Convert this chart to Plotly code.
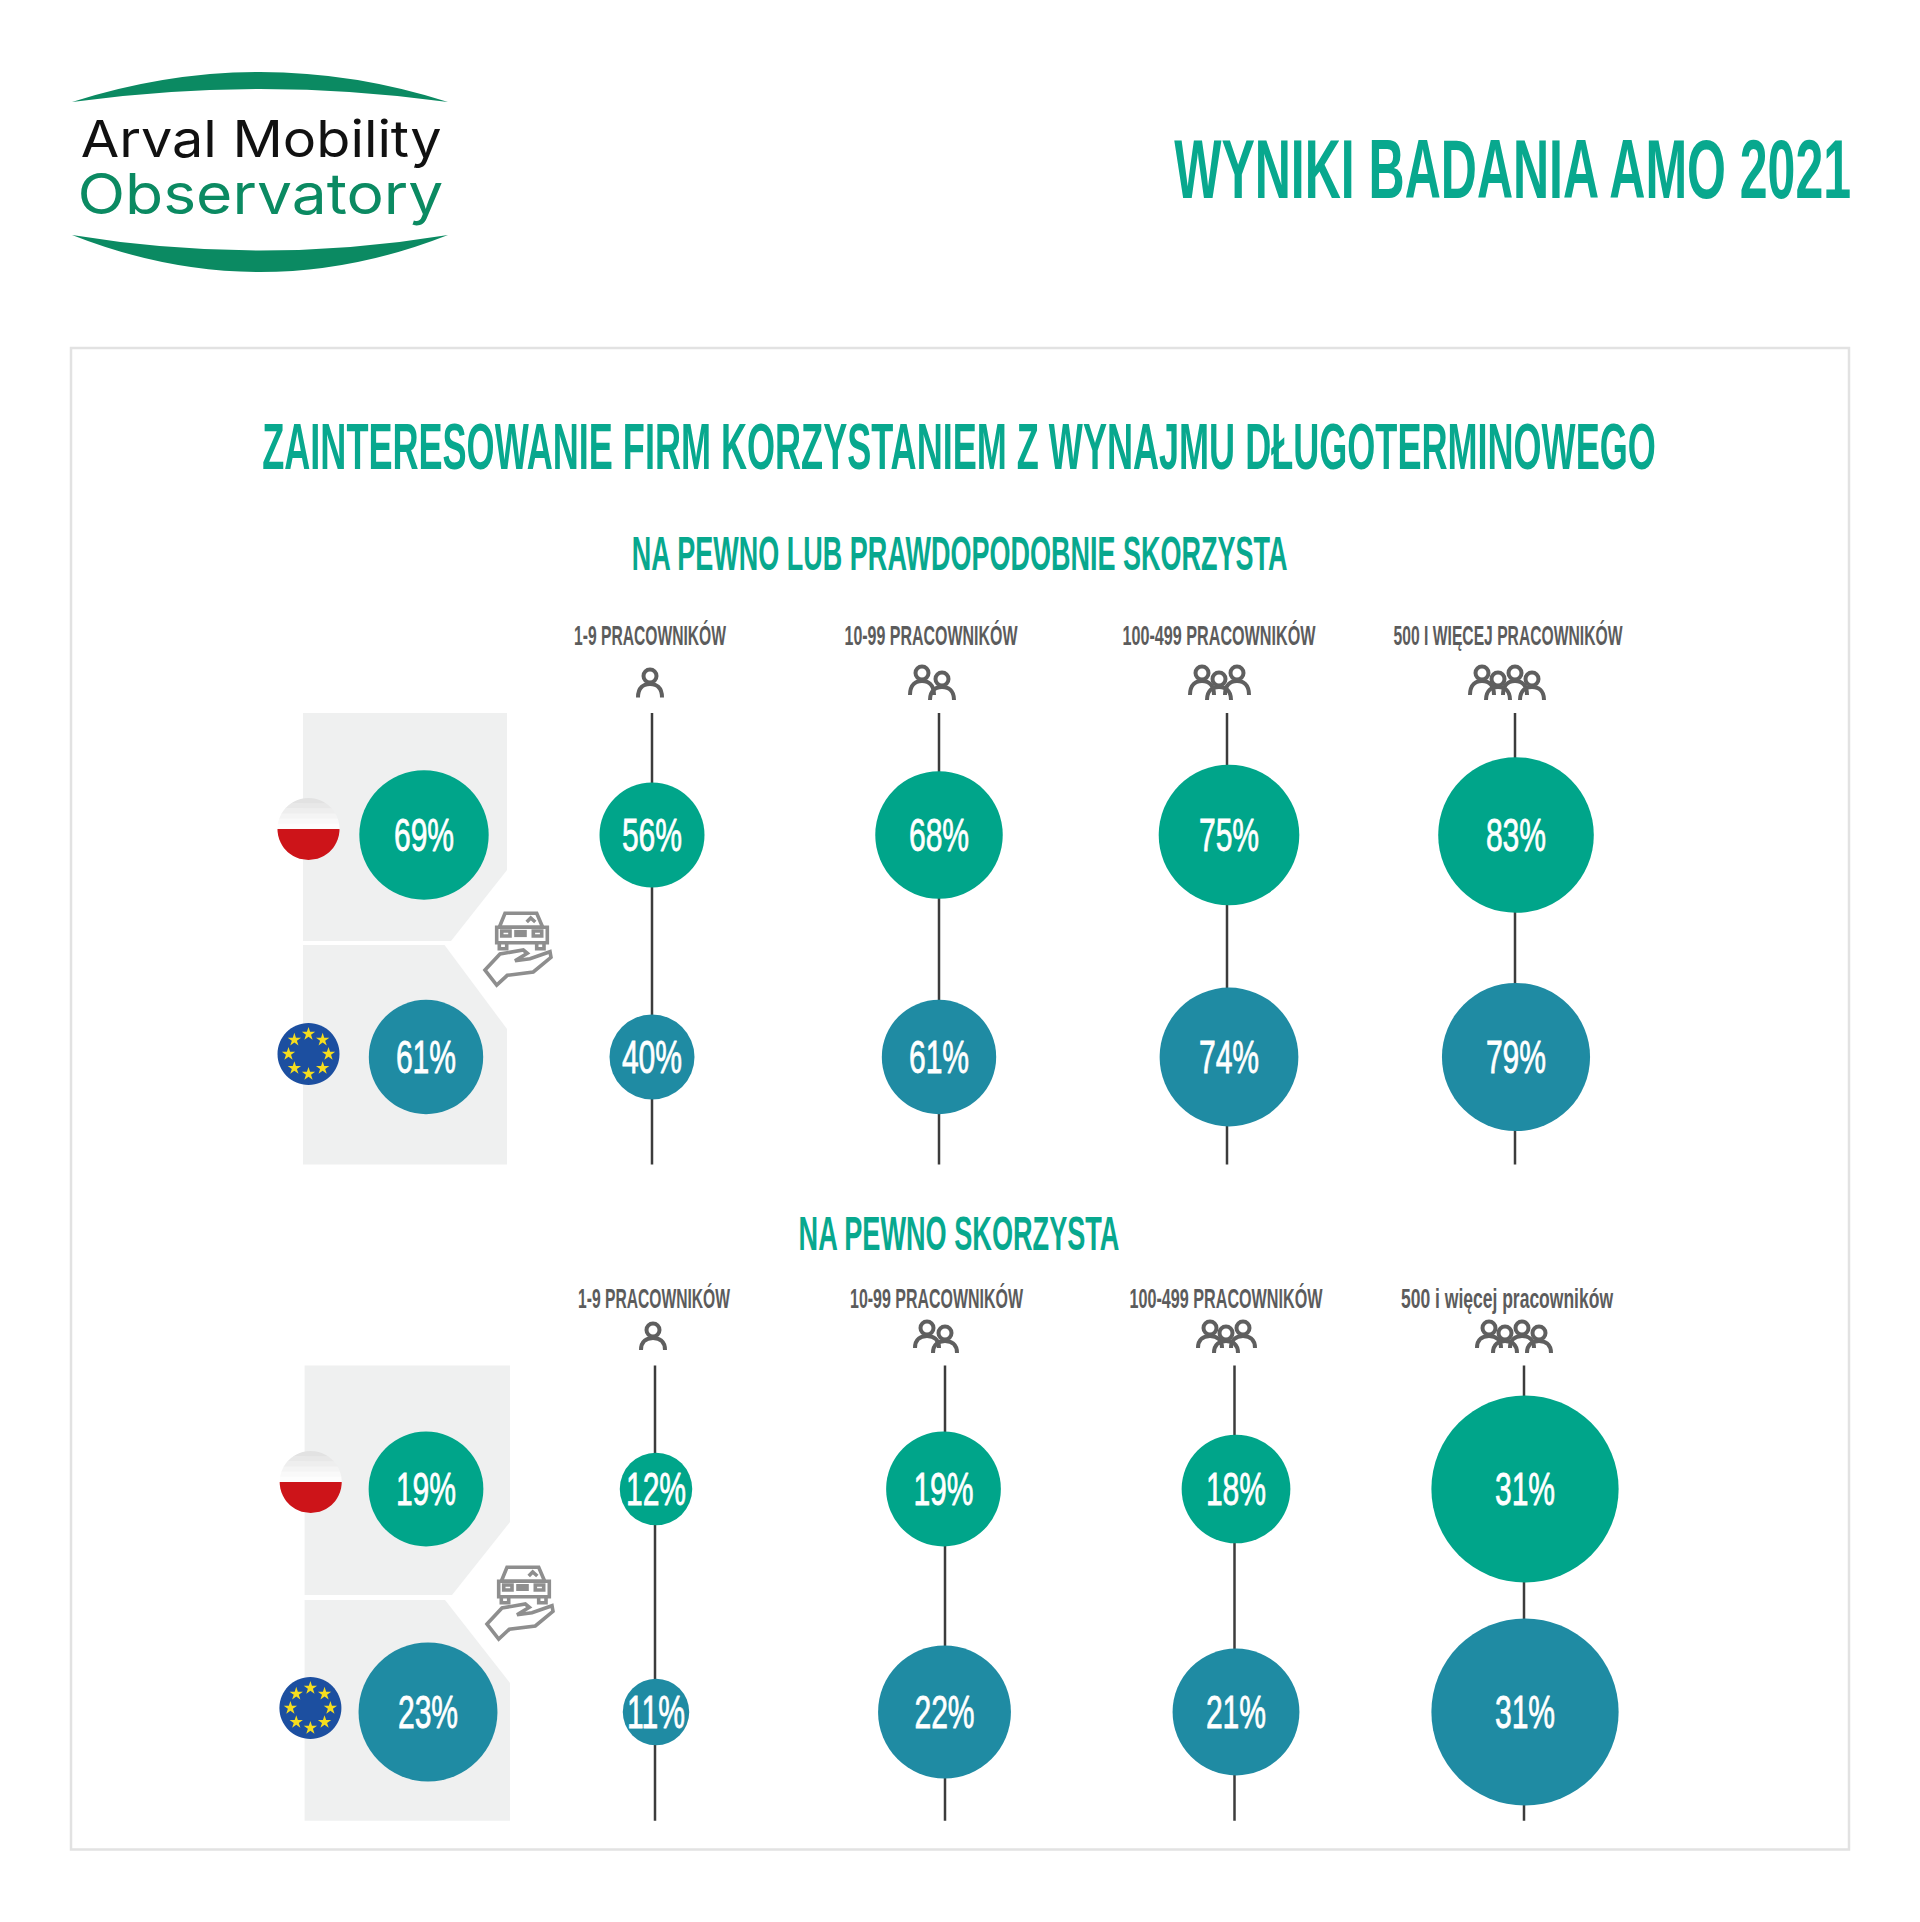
import json
import numpy as np
import plotly.graph_objects as go

# values
size_labels_a = ["1-9 PRACOWNIKÓW", "10-99 PRACOWNIKÓW", "100-499 PRACOWNIKÓW", "500 I WIĘCEJ PRACOWNIKÓW"]
size_labels_b = ["1-9 PRACOWNIKÓW", "10-99 PRACOWNIKÓW", "100-499 PRACOWNIKÓW", "500 i więcej pracowników"]
poland_a = [69, 56, 68, 75, 83]
europe_a = [61, 40, 61, 74, 79]
poland_b = [19, 12, 19, 18, 31]
europe_b = [23, 11, 22, 21, 31]

GREEN = "#00a58a"
TEAL = "#1f8ba3"
TITLE = "#08a88e"
LOGO = "#0b8a62"
GREY = "#5f5f5f"
ICON = "#8e8e8e"
FONT = "Liberation Sans"

# widths of the condensed headline font, squeezed after the plot is drawn
text_widths = {
    "WYNIKI BADANIA AMO 2021": 677,
    "ZAINTERESOWANIE FIRM KORZYSTANIEM Z WYNAJMU DŁUGOTERMINOWEGO": 1394,
    "NA PEWNO LUB PRAWDOPODOBNIE SKORZYSTA": 656,
    "NA PEWNO SKORZYSTA": 321,
    "1-9 PRACOWNIKÓW": 152,
    "10-99 PRACOWNIKÓW": 173,
    "100-499 PRACOWNIKÓW": 193,
    "500 I WIĘCEJ PRACOWNIKÓW": 229,
    "500 i więcej pracowników": 212,
    "Arval Mobility": 361,
    "Observatory": 366,
}

shapes = []


def add_path(path, fill=None, line=None, width=0):
    shapes.append(dict(type="path", path=path, layer="below",
                       fillcolor=fill or "rgba(0,0,0,0)",
                       line=dict(color=line or "rgba(0,0,0,0)", width=width)))


def circle_path(cx, cy, r):
    k = 0.5523 * r
    return (f"M {cx-r} {cy} C {cx-r} {cy-k} {cx-k} {cy-r} {cx} {cy-r} "
            f"C {cx+k} {cy-r} {cx+r} {cy-k} {cx+r} {cy} "
            f"C {cx+r} {cy+k} {cx+k} {cy+r} {cx} {cy+r} "
            f"C {cx-k} {cy+r} {cx-r} {cy+k} {cx-r} {cy} Z")


def slice_path(cx, cy, r, y1, y2):
    # piece of a disc between two horizontal cuts
    ys = np.linspace(y1, y2, 24)
    half = np.sqrt(np.maximum(r**2 - (ys - cy)**2, 0))
    pts = [(cx - h, y) for h, y in zip(half, ys)] + [(cx + h, y) for h, y in zip(half[::-1], ys[::-1])]
    return "M " + " L ".join(f"{x:.1f} {y:.1f}" for x, y in pts) + " Z"


def poland_flag(cx, cy, r=31):
    bands = ["#e2e2e2", "#e8e8e8", "#eeeeee", "#f4f4f4", "#f9f9f9", "#fdfdfd"]
    for i, col in enumerate(bands):
        add_path(slice_path(cx, cy, r, cy - r + i * r / 6, cy - r + (i + 1) * r / 6 + 0.5), fill=col)
    add_path(slice_path(cx, cy, r, cy, cy + r), fill="#cd1419")


def person(cx, head_y, bottom):
    add_path(circle_path(cx, head_y, 6.5), line=GREY, width=4)
    top = head_y + 8
    add_path(f"M {cx-12} {bottom} C {cx-12} {top+3} {cx-6} {top} {cx} {top} "
             f"C {cx+6} {top} {cx+12} {top+3} {cx+12} {bottom}", line=GREY, width=4)


def car_hand(ox, oy):
    def p(points, close=True):
        s = " L ".join(f"{ox + x/3:.1f} {oy + y/3:.1f}" for x, y in points)
        add_path("M " + s + (" Z" if close else ""), line=ICON, width=3.6)
    p([(105, 40), (200, 40), (218, 82), (88, 82)])
    p([(170, 66), (182, 54), (196, 66)], False)
    p([(80, 82), (232, 82), (232, 128), (80, 128)])
    p([(88, 128), (88, 146), (110, 146), (110, 128)], False)
    p([(200, 128), (200, 146), (222, 146), (222, 128)], False)
    p([(95, 93), (120, 93), (120, 108), (95, 108)])
    p([(190, 93), (215, 93), (215, 108), (190, 108)])
    p([(138, 95), (165, 95), (165, 106), (138, 106)])
    p([(45, 210), (90, 162), (160, 150), (172, 160), (135, 182), (180, 176), (240, 155),
       (243, 172), (190, 216), (112, 226), (80, 255)])


def grey_panel(left, right, top, bend1, tip1, x1, tip2, x2, bend2, bottom):
    add_path(f"M {left} {top} L {right} {top} L {right} {bend1} L {x1} {tip1} L {left} {tip1} Z", fill="#eff0f0")
    add_path(f"M {left} {tip2} L {x2} {tip2} L {right} {bend2} L {right} {bottom} L {left} {bottom} Z", fill="#eff0f0")


# page frame
shapes.append(dict(type="rect", x0=71, x1=1849, y0=348, y1=1849.5, layer="below",
                   line=dict(color="#e2e2e2", width=2.5), fillcolor="white"))

# logo swooshes
add_path("M 72 102 Q 260 42 448 102 Q 260 76 72 102 Z", fill=LOGO)
add_path("M 72 235 Q 260 309 448 235 Q 260 266 72 235 Z", fill=LOGO)

grey_panel(303, 507, 713, 870, 941, 451, 945, 444.5, 1029, 1164.5)
grey_panel(304.6, 510, 1365.6, 1522, 1595, 452, 1600, 445, 1683, 1820.7)
poland_flag(308.5, 829)
add_path(circle_path(308.5, 1054, 31), fill="#1c4fa0")
poland_flag(310.7, 1482)
add_path(circle_path(310.4, 1708, 31), fill="#1c4fa0")
car_hand(470, 900)
car_hand(472, 1554)

# people icons: head x and row (0 = back, 1 = front) per person
people_a = [[(650, 0.5)], [(922, 0), (942, 1)], [(1202, 0), (1219, 1), (1237, 0)],
            [(1482, 0), (1498, 1), (1515, 0), (1532, 1)]]
for group in people_a:
    for hx, row in group:
        person(hx, 673 + 6 * row, 695 + 5 * row)
people_b = [[(653, 0.4)], [(927, 0), (945, 1)], [(1210, 0), (1226, 1), (1243, 0)],
            [(1489, 0), (1505, 1), (1522, 0), (1539, 1)]]
for group in people_b:
    for hx, row in group:
        person(hx, 1328 + 5 * row, 1348 + 5 * row)

fig = go.Figure()

# vertical stems behind the bubbles
stems = [([652, 939, 1227, 1515], 713, 1164.5), ([655, 945, 1234.5, 1524], 1365.6, 1820.7)]
for xs, y0, y1 in stems:
    for x in xs:
        fig.add_trace(go.Scatter(x=[x, x], y=[y0, y1], mode="lines",
                                 line=dict(color="#3c3c3c", width=2.5), hoverinfo="skip"))


def bubbles(values, xs, y, scale, color, fix=None):
    fix = fix or {}
    sizes = [fix.get(i, v * scale) for i, v in enumerate(values)]
    fig.add_trace(go.Scatter(x=xs, y=[y] * len(xs), mode="markers",
                             marker=dict(size=sizes, color=color, line=dict(width=0), opacity=1),
                             hoverinfo="skip"))
    # labels sit a little under the bubble centre in the original
    fig.add_trace(go.Scatter(x=xs, y=[y + 4] * len(xs), mode="text",
                             text=[f"{v}%" for v in values], textposition="middle center",
                             textfont=dict(family=FONT, size=47, color="white"),
                             hoverinfo="skip"))


bubbles(poland_a, [424, 652, 939, 1229, 1516], 835, 1.875, GREEN)
bubbles(europe_a, [426, 652, 939, 1229, 1516], 1057, 1.875, TEAL, fix={1: 85})
bubbles(poland_b, [426, 656, 943.5, 1236, 1525], 1489, 6.04, GREEN)
bubbles(europe_b, [428, 656, 944.5, 1236, 1525], 1712, 6.04, TEAL)

# EU stars
for cx, cy in [(308.5, 1054), (310.4, 1708)]:
    ang = np.arange(8) * np.pi / 4
    fig.add_trace(go.Scatter(x=cx + 20 * np.cos(ang), y=cy + 20 * np.sin(ang), mode="markers",
                             marker=dict(symbol="star", size=10, color="#f6dd1e", line=dict(width=0)),
                             hoverinfo="skip"))

# column headers
fig.add_trace(go.Scatter(x=[650, 931, 1219, 1508], y=[638] * 4, mode="text", text=size_labels_a,
                         textposition="middle center",
                         textfont=dict(family=FONT, size=27, color="#5c5c5c", weight="bold"),
                         hoverinfo="skip"))
fig.add_trace(go.Scatter(x=[654, 936.5, 1226, 1507], y=[1301] * 4, mode="text", text=size_labels_b,
                         textposition="middle center",
                         textfont=dict(family=FONT, size=27, color="#5c5c5c", weight="bold"),
                         hoverinfo="skip"))

annotations = [
    dict(x=1512, y=169, text="WYNIKI BADANIA AMO 2021", font=dict(family=FONT, size=84, color=TITLE, weight="bold")),
    dict(x=958.5, y=446.5, text="ZAINTERESOWANIE FIRM KORZYSTANIEM Z WYNAJMU DŁUGOTERMINOWEGO",
         font=dict(family=FONT, size=65, color=TITLE, weight="bold")),
    dict(x=959, y=553.5, text="NA PEWNO LUB PRAWDOPODOBNIE SKORZYSTA",
         font=dict(family=FONT, size=48, color=TITLE, weight="bold")),
    dict(x=959, y=1233, text="NA PEWNO SKORZYSTA", font=dict(family=FONT, size=48, color=TITLE, weight="bold")),
    dict(x=261, y=138, text="Arval Mobility", font=dict(family="Inter", size=51, color="#111111", weight=400)),
    dict(x=260, y=194, text="Observatory", font=dict(family="Inter", size=56, color=LOGO, weight=400)),
]
for a in annotations:
    a.update(showarrow=False, xref="x", yref="y", xanchor="center", yanchor="middle")

fig.update_layout(
    width=1920, height=1922, margin=dict(l=0, r=0, t=0, b=0),
    paper_bgcolor="white", plot_bgcolor="white", showlegend=False,
    xaxis=dict(range=[0, 1920], visible=False, fixedrange=True),
    yaxis=dict(range=[1922, 0], visible=False, fixedrange=True),
    shapes=shapes, annotations=annotations,
)

# no condensed font is installed, so narrow the headline texts around their centre
squeeze = """
document.body.style.margin = '0';
var widths = %s;
document.querySelectorAll('svg text').forEach(function (t) {
    var s = t.textContent;
    var len = t.getComputedTextLength();
    var k = widths[s] ? widths[s] / len : (s.endsWith('%%') ? 0.64 : 0);
    if (!k) { return; }
    if (s.endsWith('%%')) { t.style.stroke = 'white'; t.style.strokeWidth = '0.8px'; }
    var cx = parseFloat(t.getAttribute('x')) || 0;
    var old = t.getAttribute('transform') || '';
    t.setAttribute('transform', old + ' translate(' + cx + ',0) scale(' + k + ',1) translate(' + (-cx) + ',0)');
});
""" % json.dumps(text_widths, ensure_ascii=False)

fig.write_html("out.html", config=dict(displayModeBar=False), post_script=squeeze)
